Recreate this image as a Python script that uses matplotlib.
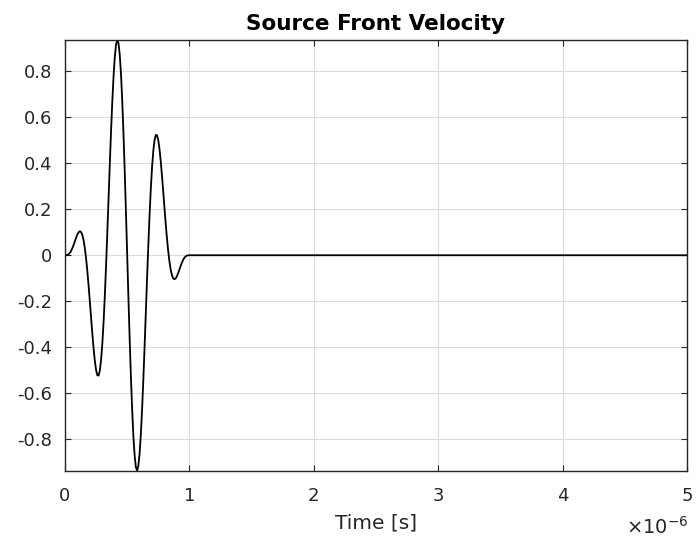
import matplotlib
matplotlib.use("Agg")
import matplotlib.pyplot as plt

plt.rcParams['font.family'] = ['DejaVu Sans']
plt.rcParams['axes.unicode_minus'] = False

# Time samples in microseconds
time_us = [0.00, 0.01, 0.02, 0.03, 0.04, 0.05, 0.06, 0.07, 0.08, 0.09,
           0.10, 0.11, 0.12, 0.13, 0.14, 0.15, 0.16, 0.17, 0.18, 0.19,
           0.20, 0.21, 0.22, 0.23, 0.24, 0.25, 0.26, 0.27, 0.28, 0.29,
           0.30, 0.31, 0.32, 0.33, 0.34, 0.35, 0.36, 0.37, 0.38, 0.39,
           0.40, 0.41, 0.42, 0.43, 0.44, 0.45, 0.46, 0.47, 0.48, 0.49,
           0.50, 0.51, 0.52, 0.53, 0.54, 0.55, 0.56, 0.57, 0.58, 0.59,
           0.60, 0.61, 0.62, 0.63, 0.64, 0.65, 0.66, 0.67, 0.68, 0.69,
           0.70, 0.71, 0.72, 0.73, 0.74, 0.75, 0.76, 0.77, 0.78, 0.79,
           0.80, 0.81, 0.82, 0.83, 0.84, 0.85, 0.86, 0.87, 0.88, 0.89,
           0.90, 0.91, 0.92, 0.93, 0.94, 0.95, 0.96, 0.97, 0.98, 0.99,
           1.00, 5.00]

velocity = [0.0, 0.0002, 0.0015, 0.0047, 0.0108, 0.0198, 0.0318, 0.0461, 0.0617, 0.0772,
            0.0908, 0.1006, 0.1044, 0.1005, 0.0874, 0.0637, 0.0291, -0.0163, -0.0714, -0.1345,
            -0.2031, -0.2739, -0.3431, -0.4066, -0.4603, -0.5000, -0.5220, -0.5232, -0.5013, -0.4551,
            -0.3847, -0.2913, -0.1773, -0.0465, 0.0962, 0.2453, 0.3945, 0.5369, 0.6661, 0.7758,
            0.8603, 0.9149, 0.9363, 0.9225, 0.8730, 0.7892, 0.6738, 0.5311, 0.3667, 0.1872,
            0.0, -0.1872, -0.3667, -0.5311, -0.6738, -0.7892, -0.8730, -0.9225, -0.9363, -0.9149,
            -0.8603, -0.7758, -0.6661, -0.5369, -0.3945, -0.2453, -0.0962, 0.0465, 0.1773, 0.2913,
            0.3847, 0.4551, 0.5013, 0.5232, 0.5220, 0.5000, 0.4603, 0.4066, 0.3431, 0.2739,
            0.2031, 0.1345, 0.0714, 0.0163, -0.0291, -0.0637, -0.0874, -0.1005, -0.1044, -0.1006,
            -0.0908, -0.0772, -0.0617, -0.0461, -0.0318, -0.0198, -0.0108, -0.0047, -0.0015, -0.0002,
            0.0, 0.0]

xtick_vals_us = [0, 1, 2, 3, 4, 5]
xtick_labels = ['0', '1', '2', '3', '4', '5']
ytick_vals = [-0.8, -0.6, -0.4, -0.2, 0.0, 0.2, 0.4, 0.6, 0.8]
ytick_labels = ['-0.8', '-0.6', '-0.4', '-0.2', '0', '0.2', '0.4', '0.6', '0.8']

time_s = [t * 1e-6 for t in time_us]

fig = plt.figure(figsize=(6.97, 5.43), dpi=100)
ax = fig.add_axes([65/697, 1 - 470.5/543, (687-65)/697, (470.5-40)/543])

ax.plot(time_s, velocity, color='black', linewidth=1.3)

ax.set_xlim(0, 5e-6)
ymax = max(abs(v) for v in velocity)
ax.set_ylim(-ymax, ymax)

ax.set_xticks([v * 1e-6 for v in xtick_vals_us])
ax.set_xticklabels(xtick_labels)
ax.set_yticks(ytick_vals)
ax.set_yticklabels(ytick_labels)

axis_color = '#262626'
for s in ax.spines.values():
    s.set_color(axis_color)
    s.set_linewidth(1.0)
ax.tick_params(direction='in', length=4, width=0.8, colors=axis_color,
               labelsize=13, top=True, right=True)
ax.tick_params(axis='x', pad=12)
ax.tick_params(axis='y', pad=9)
ax.grid(True, color='#dcdcdc', linewidth=0.8)
ax.set_axisbelow(True)

ax.set_title('Source Front Velocity', fontsize=15.5, fontweight='bold', color='black', pad=7)
ax.set_xlabel('Time [s]', fontsize=14.5, color=axis_color, labelpad=6)
ax.text(1.003, -0.132, r'$\times$10$^{\mathregular{-6}}$', transform=ax.transAxes,
        ha='right', va='center', fontsize=14, color=axis_color)

fig.savefig('out.png', dpi=100)
